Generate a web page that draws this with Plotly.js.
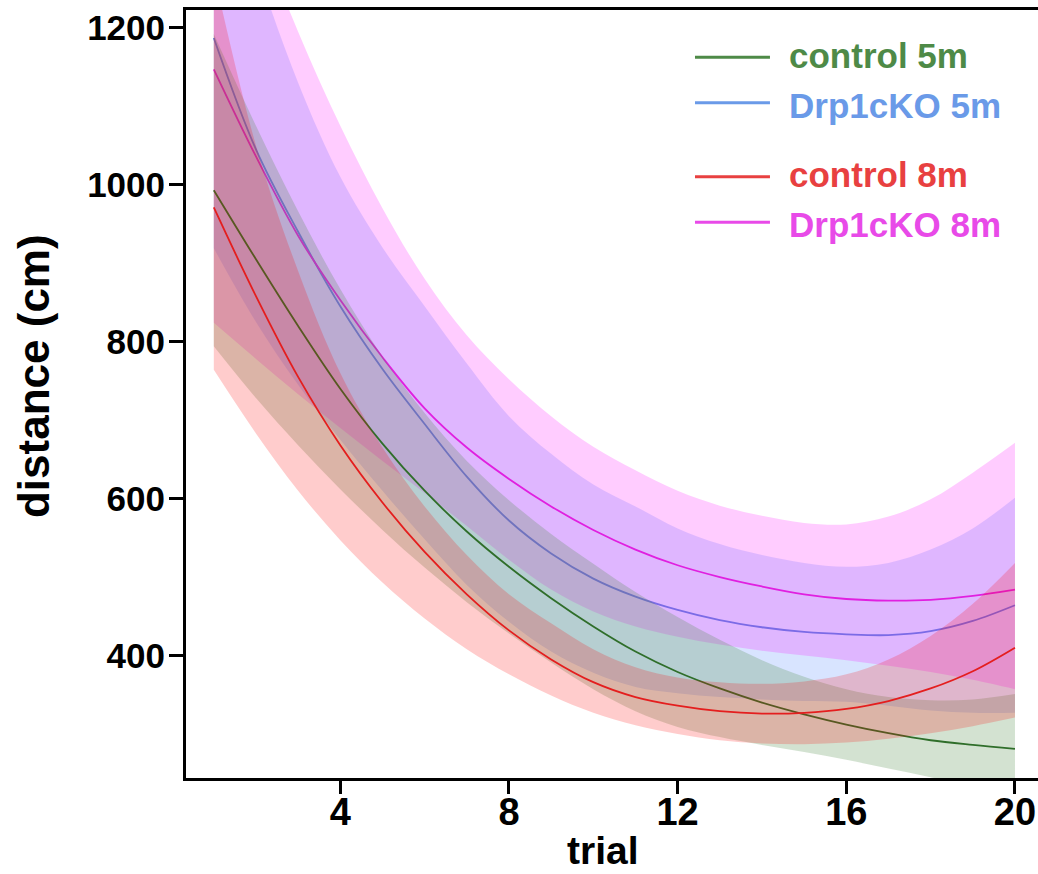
<!DOCTYPE html>
<html>
<head>
<meta charset="utf-8">
<script src="https://cdn.plot.ly/plotly-3.0.1.min.js"></script>
<style>html,body{margin:0;padding:0;background:#fff;}#chart{width:1038px;height:874px;}</style>
</head>
<body>
<div id="chart"></div>
<script>
// ---- data ----
const trials = [1,2,3,4,5,6,7,8,9,10,11,12,13,14,15,16,17,18,19,20];

const ctrl5Mean  = [993, 905, 820, 740, 670, 610, 558, 513, 473, 437, 405, 379, 358, 340, 325, 312, 301, 292, 286, 281];
const ctrl5Upper = [1192,1075, 966, 867, 781, 709, 648, 598, 555, 517, 481, 449, 420, 394, 373, 357, 347, 343, 344, 351];
const ctrl5Lower = [794, 728, 668, 612, 560, 512, 468, 428, 391, 357, 329, 309, 296, 286, 277, 267, 256, 245, 232, 218];

const ko5Mean  = [1187,1045, 940, 845, 765, 695, 628, 572, 530, 498, 475, 458, 445, 436, 430, 427, 426, 431, 444, 464];
const ko5Upper = [1455,1280,1130,1010, 920, 845, 772, 705, 657, 618, 590, 562, 542, 528, 518, 513, 518, 535, 562, 601];
const ko5Lower = [919, 825, 745, 675, 610, 548, 490, 443, 405, 378, 360, 352, 347, 344, 342, 341, 336, 330, 327, 327];

const ctrl8Mean  = [971, 858, 755, 668, 595, 532, 478, 432, 395, 366, 347, 336, 329, 326, 327, 332, 342, 358, 380, 410];
const ctrl8Upper = [1270,1050, 890, 760, 665, 590, 528, 478, 441, 408, 385, 372, 366, 364, 367, 376, 395, 425, 466, 518];
const ctrl8Lower = [764, 683, 610, 547, 493, 447, 408, 376, 349, 327, 311, 300, 292, 288, 287, 289, 294, 301, 310, 321];

const ko8Mean  = [1147,1036, 935, 853, 780, 715, 665, 625, 590, 560, 535, 515, 500, 488, 478, 472, 470, 471, 476, 484];
const ko8Upper = [1480,1330,1195,1075, 970, 880, 808, 752, 705, 666, 636, 610, 591, 578, 569, 567, 577, 599, 633, 671];
const ko8Lower = [824, 778, 733, 690, 648, 607, 565, 522, 484, 456, 437, 424, 414, 406, 400, 394, 387, 379, 369, 357];

const seriesNames = ['control 5m', 'Drp1cKO 5m', 'control 8m', 'Drp1cKO 8m'];
const xTicks = [4, 8, 12, 16, 20];
const yTicks = [400, 600, 800, 1000, 1200];

// ---- styling ----
const FONT = 'Liberation Sans, Arial, Helvetica, sans-serif';
const styles = {
  'control 5m':  {fill: 'rgba(78,138,71,0.25)',  line: '#2f6e2a', legend: '#4e8a47'},
  'Drp1cKO 5m':  {fill: 'rgba(99,147,255,0.25)', line: '#5a86e0', legend: '#6a9ae8'},
  'control 8m':  {fill: 'rgba(255,0,0,0.2)',     line: '#e41e1e', legend: '#e84040'},
  'Drp1cKO 8m':  {fill: 'rgba(255,0,255,0.2)',   line: '#e020e0', legend: '#e84ae8'}
};
const seriesData = {
  'control 5m': [ctrl5Mean, ctrl5Upper, ctrl5Lower],
  'Drp1cKO 5m': [ko5Mean, ko5Upper, ko5Lower],
  'control 8m': [ctrl8Mean, ctrl8Upper, ctrl8Lower],
  'Drp1cKO 8m': [ko8Mean, ko8Upper, ko8Lower]
};
// drawing order (bottom to top)
const drawOrder = ['Drp1cKO 5m', 'Drp1cKO 8m', 'control 5m', 'control 8m'];

const traces = [];
drawOrder.forEach(name => {
  const [mean, up, lo] = seriesData[name];
  const st = styles[name];
  traces.push({x: trials, y: lo, type: 'scatter', mode: 'lines',
    line: {width: 0, shape: 'spline', color: st.fill}, showlegend: false, hoverinfo: 'skip'});
  traces.push({x: trials, y: up, type: 'scatter', mode: 'lines', fill: 'tonexty',
    fillcolor: st.fill, line: {width: 0, shape: 'spline', color: st.fill}, showlegend: false, hoverinfo: 'skip'});
  traces.push({x: trials, y: mean, type: 'scatter', mode: 'lines', name: name,
    line: {width: 1.8, shape: 'spline', color: st.line}, showlegend: false});
});

// ---- custom legend (line + coloured bold text) ----
const legendY = [0.9384, 0.8793, 0.7829, 0.7236];
const legendTextY = [0.9414, 0.8754, 0.7854, 0.7203];
const shapes = [];
const annotations = [];
seriesNames.forEach((name, i) => {
  shapes.push({type: 'line', xref: 'paper', yref: 'paper', x0: 0.5974, x1: 0.6854,
    y0: legendY[i], y1: legendY[i], line: {color: styles[name].legend, width: 3}});
  annotations.push({xref: 'paper', yref: 'paper', x: 0.7054, y: legendTextY[i],
    xanchor: 'left', yanchor: 'middle', showarrow: false, text: name,
    font: {family: FONT, size: 35, weight: 700, color: styles[name].legend}});
});
// axis titles
annotations.push({xref: 'paper', yref: 'paper', x: -0.1796, y: 0.5234, xanchor: 'center', yanchor: 'middle',
  showarrow: false, textangle: -90, text: 'distance (cm)',
  font: {family: FONT, size: 44, weight: 700, color: '#000'}});
annotations.push({xref: 'paper', yref: 'paper', x: 0.4894, y: -0.0938, xanchor: 'center', yanchor: 'middle',
  showarrow: false, text: 'trial',
  font: {family: FONT, size: 39, weight: 700, color: '#000'}});

const layout = {
  width: 1038, height: 874,
  margin: {l: 186, r: 0, t: 10, b: 96},
  paper_bgcolor: '#fff', plot_bgcolor: '#fff',
  font: {family: FONT, color: '#000'},
  showlegend: false,
  xaxis: {
    range: [0.341, 20.546], tickvals: xTicks, ticktext: xTicks.map(String),
    ticks: 'outside', ticklen: 13, tickwidth: 3, tickcolor: '#000',
    showline: true, linewidth: 3, linecolor: '#000', mirror: true,
    showgrid: false, zeroline: false, ticklabelstandoff: -15,
    tickfont: {family: FONT, size: 38, weight: 700, color: '#000'}
  },
  yaxis: {
    range: [243.9, 1222.6], tickvals: yTicks, ticktext: yTicks.map(String),
    ticks: 'outside', ticklen: 14, tickwidth: 3, tickcolor: '#000',
    showline: true, linewidth: 3, linecolor: '#000', mirror: false,
    showgrid: false, zeroline: false, ticklabelstandoff: -3,
    tickfont: {family: FONT, size: 35, weight: 700, color: '#000'}
  },
  shapes: shapes,
  annotations: annotations
};

Plotly.newPlot('chart', traces, layout, {displayModeBar: false, staticPlot: true});
</script>
</body>
</html>
